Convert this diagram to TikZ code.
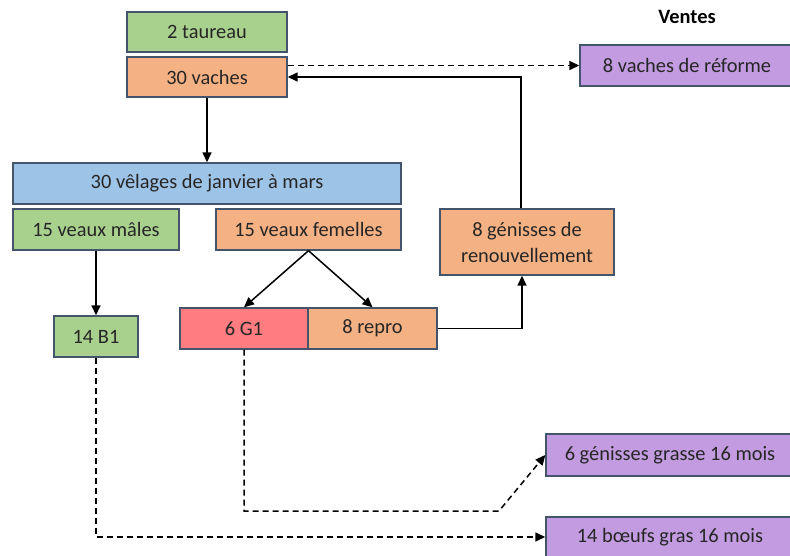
\documentclass[tikz,border=0pt]{standalone}
\usepackage{fontspec}
\setmainfont{Carlito}
\usetikzlibrary{arrows.meta}
\definecolor{mygreen}{HTML}{A9D18E}
\definecolor{myorange}{HTML}{F4B183}
\definecolor{myblue}{HTML}{9DC3E6}
\definecolor{mypurple}{HTML}{C39BE0}
\definecolor{myred}{HTML}{FF7C80}
\definecolor{myborder}{HTML}{44546A}
\begin{document}
\begin{tikzpicture}[
    x=1pt,y=-1pt,
    font=\fontsize{20.4}{26}\selectfont,
    mybox/.style={draw=myborder,line width=1.4pt,fill=#1,inner sep=0pt,
        minimum height=41pt,align=center,text=black!85},
    myline/.style={line width=1.5pt,-{Triangle[length=10pt,width=9pt]}},
    mydash/.style={myline,dash pattern=on 6pt off 4pt}
]
\path[use as bounding box,clip] (0,0) rectangle (790,556);
% troupeau
\node[mybox=mygreen,minimum width=160pt,minimum height=40pt] (taureau) at (207,32) {2 taureau};
\node[mybox=myorange,minimum width=160pt,minimum height=40pt] (vaches) at (207,77) {30 vaches};
\node[mybox=myblue,minimum width=388pt] (velages) at (207,183.5) {30 vêlages de janvier à mars};
\node[mybox=mygreen,minimum width=166pt] (males) at (96,229.5) {15 veaux mâles};
\node[mybox=myorange,minimum width=185pt] (femelles) at (308.5,229.5) {15 veaux femelles};
\node[mybox=mygreen,minimum width=84pt] (bun) at (96,336.5) {14 B1};
\node[mybox=myred,minimum width=128pt] (gun) at (244,328.5) {6 G1};
\node[mybox=myorange,minimum width=129pt] (repro) at (372.5,328.5) {8 repro};
\node[mybox=myorange,minimum width=174pt,minimum height=66pt] (renouv) at (527,242) {8 génisses de\\renouvellement};
% ventes
\node[font=\fontsize{20.4}{26}\bfseries] (ventes) at (687,17) {Ventes};
\node[mybox=mypurple,minimum width=214pt] (reforme) at (687,65.5) {8 vaches de réforme};
\node[mybox=mypurple,minimum width=248pt,minimum height=42pt] (grasse) at (670,455) {6 génisses grasse 16 mois};
\node[mybox=mypurple,minimum width=248pt,minimum height=40pt] (boeufs) at (670,537) {14 bœufs gras 16 mois};
\coordinate (gbend) at (499,511);
% fleches
\draw[myline] (vaches.south) -- (velages.north);
\draw[myline] (males.south) -- (bun.north);
\draw[myline] (femelles.south) -- (gun.north);
\draw[myline] (femelles.south) -- (repro.north);
\draw[myline] (repro.east) -| ([xshift=-5pt]renouv.south);
\draw[myline] ([xshift=-6pt]renouv.north) |- (vaches.east);
\draw[mydash] (reforme.west -| vaches.east) -- (reforme.west);
\draw[mydash] (gun.south) |- (gbend) -- (grasse.west);
\draw[mydash] (bun.south) |- (boeufs.west);
\end{tikzpicture}
\end{document}
